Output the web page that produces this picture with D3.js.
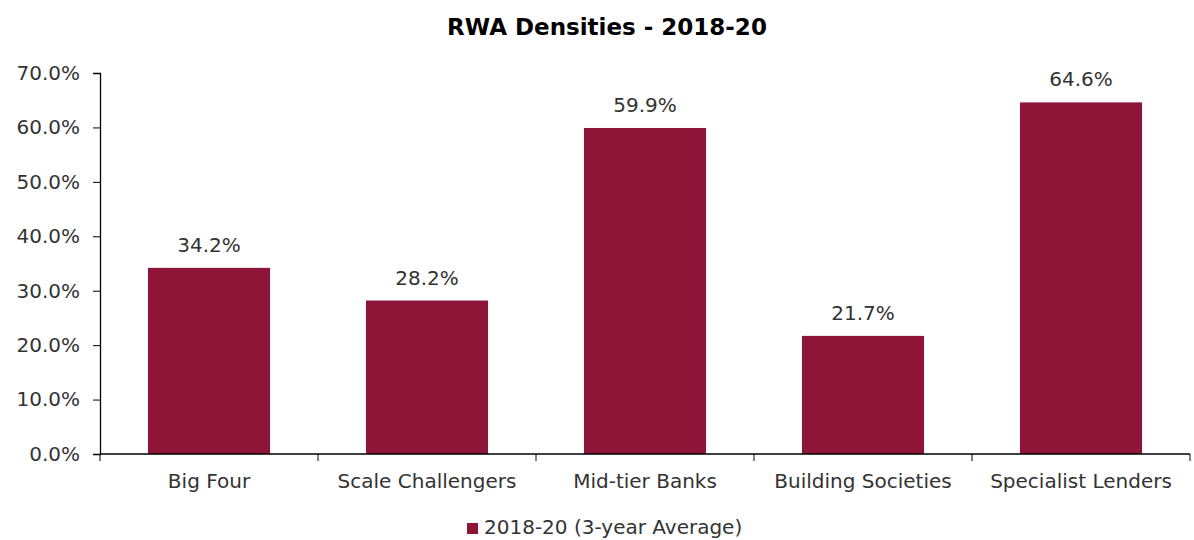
<!DOCTYPE html>
<html>
<head>
<meta charset="utf-8">
<script src="https://cdn.jsdelivr.net/npm/d3@7"></script>
<style>
  body { margin: 0; background: #fff; }
  text { font-family: "DejaVu Sans", Verdana, sans-serif; }
</style>
</head>
<body>
<div id="chart"></div>
<script>
// Data
const categories = ["Big Four", "Scale Challengers", "Mid-tier Banks", "Building Societies", "Specialist Lenders"];
const values = [34.2, 28.2, 59.9, 21.7, 64.6];
const yTicks = [0, 10, 20, 30, 40, 50, 60, 70];
const seriesName = "2018-20 (3-year Average)";
const title = "RWA Densities - 2018-20";

const W = 1194, H = 540;
const margin = {top: 73, right: 4, bottom: 86, left: 100};
const width = W - margin.left - margin.right,
height = H - margin.top - margin.bottom;
const barColor = "#8E1538";
const textColor = "#333";

const svg = d3.select("#chart")
.append("svg")
    .attr("width", W)
    .attr("height", H);

// Title
svg.append("text")
    .attr("x", 607)
    .attr("y", 35)
    .attr("text-anchor", "middle")
    .attr("font-size", 23)
    .attr("font-weight", "bold")
    .attr("fill", "#000")
    .text(title);

const g = svg.append("g")
    .attr("transform", `translate(${margin.left},${margin.top})`);

// Scales
const x = d3.scaleBand()
    .domain(categories)
    .range([0, width])
    .paddingInner(0.44)
    .paddingOuter(0.22);
const y = d3.scaleLinear()
    .domain([0, 70])
    .range([height, 0]);

// Bars
g.selectAll("rect.bar")
.data(values)
.join("rect")
    .attr("class", "bar")
    .attr("x", (d, i) => x(categories[i]))
    .attr("y", d => y(d))
    .attr("width", x.bandwidth())
    .attr("height", d => y(0) - y(d))
    .attr("fill", barColor);

// Value labels
g.selectAll("text.val")
.data(values)
.join("text")
    .attr("class", "val")
    .attr("x", (d, i) => x(categories[i]) + x.bandwidth() / 2)
    .attr("y", d => y(d) - 16)
    .attr("text-anchor", "middle")
    .attr("font-size", 20)
    .attr("fill", textColor)
    .text(d => d.toFixed(1) + "%");

// Y axis
const yAxis = g.append("g")
    .call(d3.axisLeft(y).tickValues(yTicks).tickSize(7).tickPadding(13).tickFormat(d => d.toFixed(1) + "%"));
yAxis.select(".domain").attr("stroke", "#000").attr("stroke-width", 1.3);
yAxis.selectAll(".tick line").attr("stroke", "#000");
yAxis.selectAll(".tick text").attr("font-size", 20).attr("fill", textColor)
    .style("font-family", "'DejaVu Sans', Verdana, sans-serif");

// X axis with ticks at band boundaries
const xAxisG = g.append("g")
    .attr("transform", `translate(0,${height})`);
xAxisG.append("line")
    .attr("x1", 0).attr("x2", width)
    .attr("stroke", "#000").attr("stroke-width", 1.3);
const boundaries = d3.range(categories.length + 1).map(i => i * width / categories.length);
xAxisG.selectAll("line.tk")
.data(boundaries)
.join("line")
    .attr("class", "tk")
    .attr("x1", d => d).attr("x2", d => d)
    .attr("y1", 0).attr("y2", 7)
    .attr("stroke", "#000");
xAxisG.selectAll("text.cat")
.data(categories)
.join("text")
    .attr("class", "cat")
    .attr("x", d => x(d) + x.bandwidth() / 2)
    .attr("y", 34)
    .attr("text-anchor", "middle")
    .attr("font-size", 20)
    .attr("fill", textColor)
    .text(d => d);

// Legend
const legend = svg.append("g").attr("transform", "translate(467,523)");
legend.append("rect")
    .attr("width", 11).attr("height", 11)
    .attr("fill", barColor);
legend.append("text")
    .attr("x", 17)
    .attr("y", 11)
    .attr("font-size", 20)
    .attr("fill", textColor)
    .text(seriesName);
</script>
</body>
</html>
